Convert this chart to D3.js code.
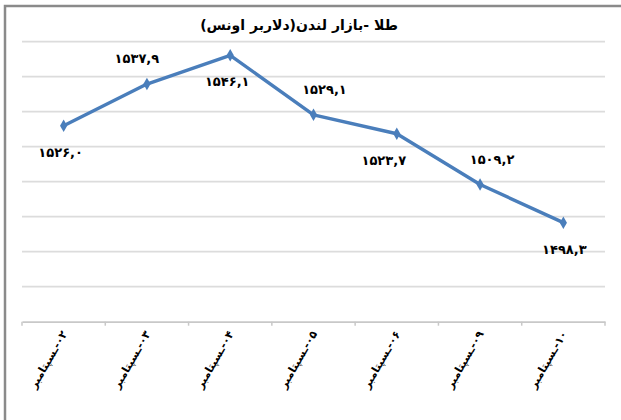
<!DOCTYPE html>
<html>
<head>
<meta charset="utf-8">
<title></title>
<style>
  body { margin: 0; background: #fff; }
  text { font-family: "DejaVu Sans", sans-serif; font-weight: bold; fill: #000; }
</style>
</head>
<body>
<script src="https://d3js.org/d3.v7.min.js"></script>
<script>
var width = 621, height = 420;

// data
var title = "طلا -بازار لندن(دلاربر اونس)";
var days = ["۰۲-ـسپتامبر", "۰۳-ـسپتامبر", "۰۴-ـسپتامبر", "۰۵-ـسپتامبر", "۰۶-ـسپتامبر", "۰۹-ـسپتامبر", "۱۰-ـسپتامبر"];
var prices = [1526.0, 1537.9, 1546.1, 1529.1, 1523.7, 1509.2, 1498.3];
var yTicks = [1470, 1480, 1490, 1500, 1510, 1520, 1530, 1540, 1550];

var faDigits = "۰۱۲۳۴۵۶۷۸۹";
function toFa(v) {
  return v.toFixed(1).replace(/\d/g, function(c) { return faDigits[+c]; }).replace(".", ",");
}

var svg = d3.select("body").append("svg")
    .attr("width", width)
    .attr("height", height);

// outer frame (only top and left edges show)
svg.append("path")
    .attr("d", "M5,420V6H621")
    .attr("fill", "none")
    .attr("stroke", "#8a8a8a")
    .attr("stroke-width", 2.5);

var x = d3.scaleBand().domain(days).range([22, 605]);
var y = d3.scaleLinear().domain([1470, 1550]).range([321.7, 41.7]);

// gridlines
svg.append("g").selectAll("line")
    .data(yTicks.slice(1))
    .enter().append("line")
    .attr("x1", 22).attr("x2", 605)
    .attr("y1", function(d) { return y(d); })
    .attr("y2", function(d) { return y(d); })
    .attr("stroke", "#dcdcdc")
    .attr("stroke-width", 1.8);

// category axis
var xAxis = svg.append("g")
    .attr("transform", "translate(0," + y(1470) + ")")
    .call(d3.axisBottom(x).tickSize(0).tickFormat(""));
xAxis.select(".domain").attr("stroke", "#c8c8c8").attr("stroke-width", 1.8);
xAxis.selectAll(".tick").remove();
xAxis.selectAll(".sep")
    .data(d3.range(days.length + 1))
    .enter().append("line")
    .attr("class", "sep")
    .attr("x1", function(i) { return 22 + i * x.step(); })
    .attr("x2", function(i) { return 22 + i * x.step(); })
    .attr("y1", 0).attr("y2", 4)
    .attr("stroke", "#c8c8c8")
    .attr("stroke-width", 1.5);

svg.append("g").selectAll("text")
    .data(days)
    .enter().append("text")
    .attr("direction", "rtl")
    .attr("text-anchor", "start")
    .attr("font-size", "11px")
    .attr("transform", function(d) {
      return "translate(" + (x(d) + x.bandwidth() / 2 + 4) + "," + (y(1470) + 12) + ") rotate(-60)";
    })
    .text(function(d) { return d; });

// title
svg.append("text")
    .attr("x", 299).attr("y", 30)
    .attr("text-anchor", "middle")
    .attr("font-size", "14px")
    .attr("direction", "rtl")
    .text(title);

// series line
var cx = function(d, i) { return x(days[i]) + x.bandwidth() / 2; };
var line = d3.line()
    .x(cx)
    .y(function(d) { return y(d); });

svg.append("path")
    .datum(prices)
    .attr("d", line)
    .attr("fill", "none")
    .attr("stroke", "#4a7ebb")
    .attr("stroke-width", 3.4)
    .attr("stroke-linejoin", "round");

svg.append("g").selectAll("path")
    .data(prices)
    .enter().append("path")
    .attr("d", d3.symbol().type(d3.symbolDiamond).size(45))
    .attr("transform", function(d, i) { return "translate(" + cx(d, i) + "," + y(d) + ")"; })
    .attr("fill", "#4a7ebb");

// value labels, alternating below/above like the original
var labelSide = [1, -1, 1, -1, 1, -1, 1];
var labelNudge = [-3, -10, -3, 11, -13, 12, 1];
svg.append("g").selectAll("text")
    .data(prices)
    .enter().append("text")
    .attr("text-anchor", "middle")
    .attr("font-size", "13px")
    .attr("x", function(d, i) { return cx(d, i) + labelNudge[i]; })
    .attr("y", function(d, i) { return y(d) + (labelSide[i] > 0 ? 31 : -21); })
    .text(function(d) { return toFa(d); });
</script>
</body>
</html>
